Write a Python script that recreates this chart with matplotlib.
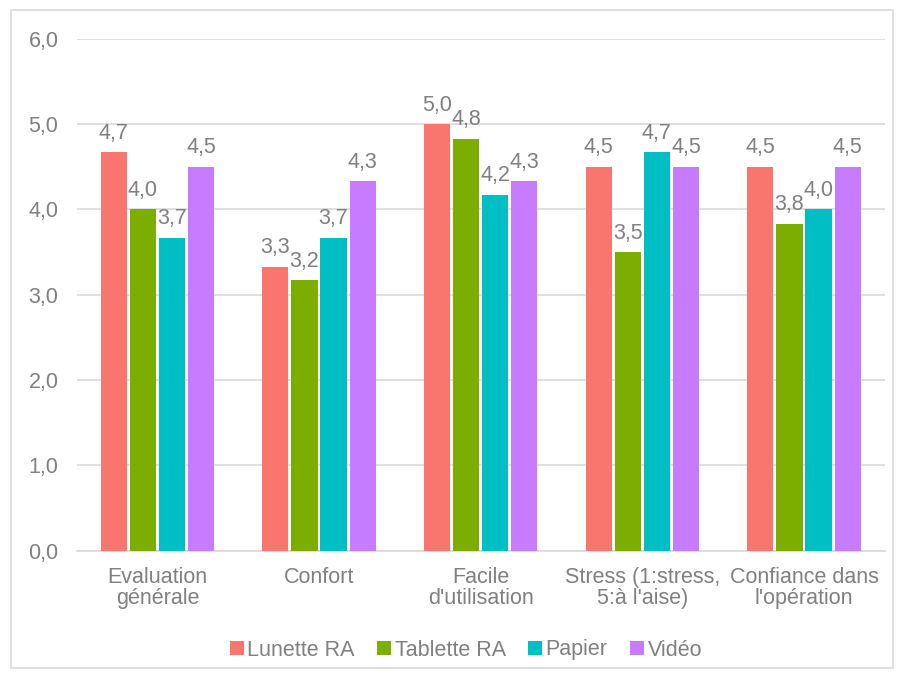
import matplotlib.pyplot as plt
import numpy as np
from matplotlib.patches import Rectangle

plt.rcParams['font.family'] = ['Liberation Sans', 'DejaVu Sans']

categories = ["Evaluation\ngénérale", "Confort", "Facile\nd'utilisation",
              "Stress (1:stress,\n5:à l'aise)", "Confiance dans\nl'opération"]
series_names = ["Lunette RA", "Tablette RA", "Papier", "Vidéo"]
lunette = [4.67, 3.33, 5.0, 4.5, 4.5]
tablette = [4.0, 3.17, 4.83, 3.5, 3.83]
papier = [3.67, 3.67, 4.17, 4.67, 4.0]
video = [4.5, 4.33, 4.33, 4.5, 4.5]
colors = ["#F8766D", "#7CAE00", "#00BFC4", "#C77CFF"]

text_color = "#808080"
grid_color = "#D9D9D9"
fs = 15.5

fig = plt.figure(figsize=(9.01, 6.8), dpi=100)
ax = fig.add_axes([0.085, 0.19, 0.897, 0.753])

x = np.arange(len(categories))
step = 0.18
width = 0.162
for i, (vals, name, c) in enumerate(zip([lunette, tablette, papier, video], series_names, colors)):
    pos = x + (i - 1.5) * step
    ax.bar(pos, vals, width=width, color=c, label=name, zorder=3)
    for px, v in zip(pos, vals):
        ax.text(px, v + 0.1, f"{v:.1f}".replace(".", ","), ha="center", va="bottom",
                fontsize=fs, color=text_color, zorder=4)

ax.set_ylim(0, 6)
ax.set_xlim(-0.5, len(categories) - 0.5)
ax.set_yticks(np.arange(0, 6.01, 1))
ax.set_yticklabels([f"{t:.1f}".replace(".", ",") for t in np.arange(0, 6.01, 1)])
ax.set_xticks(x)
ax.set_xticklabels(categories, linespacing=1.0)
ax.tick_params(axis="both", length=0, labelsize=fs, colors=text_color)
ax.tick_params(axis="y", pad=13)
ax.tick_params(axis="x", pad=12)
ax.grid(axis="y", color=grid_color, linewidth=1.2, zorder=0)
for s in ["top", "right", "left"]:
    ax.spines[s].set_visible(False)
ax.spines["bottom"].set_color(grid_color)
ax.spines["bottom"].set_linewidth(1.2)

ax.legend(loc="center", bbox_to_anchor=(466 / 901, 1 - 650 / 680), bbox_transform=fig.transFigure,
          ncol=4, frameon=False, fontsize=fs, labelcolor=text_color,
          handlelength=0.65, handleheight=0.65, handletextpad=0.15, columnspacing=1.05)

fig.patches.append(Rectangle((11 / 901, 1 - 668 / 680), 882 / 901, 658 / 680,
                             transform=fig.transFigure, fill=False,
                             edgecolor=grid_color, linewidth=1.2))

fig.savefig("out.png", dpi=100)
